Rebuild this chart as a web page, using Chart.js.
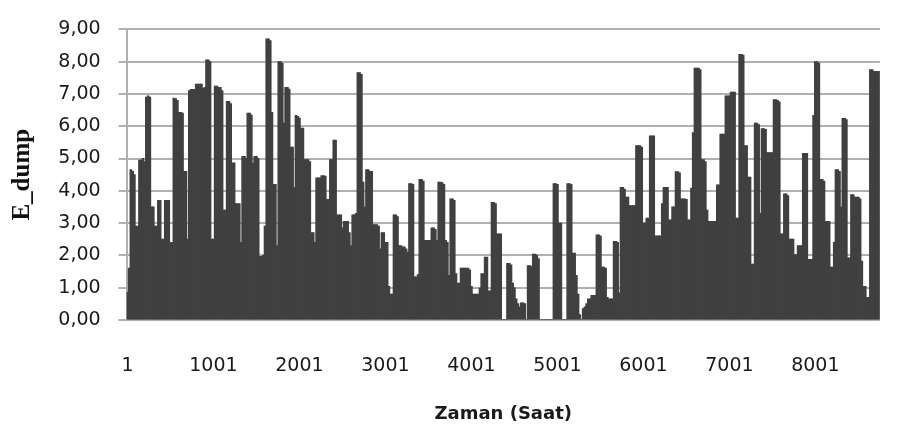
<!DOCTYPE html>
<html>
<head>
<meta charset="utf-8">
<script src="https://cdn.jsdelivr.net/npm/chart.js@4.4.1/dist/chart.umd.min.js"></script>
<style>
  html, body { margin: 0; padding: 0; background: #fff; overflow: hidden; width: 898px; height: 437px; }
  #wrap { width: 906px; height: 437px; }
</style>
</head>
<body>
<div id="wrap"><canvas id="c" width="906" height="437"></canvas></div>
<script>
// Hourly dump energy, aggregated into 20-hour blocks (438 blocks = 8760 h)
const START_HOUR = 1;
const STEP_HOURS = 20;

const eDump = [
  0.85,1.6,4.65,4.6,4.5,2.9,2.9,4.95,4.95,5.0,
  4.9,6.9,6.94,6.9,3.5,3.5,2.9,2.9,3.7,3.7,
  2.5,2.5,3.7,3.7,3.7,2.4,2.4,6.87,6.85,6.8,
  6.43,6.43,6.4,4.6,4.6,2.5,7.1,7.14,7.14,7.14,
  7.3,7.3,7.3,7.3,7.17,7.2,8.05,8.05,8.0,2.5,
  2.5,7.24,7.24,7.2,7.2,7.1,3.4,3.4,6.77,6.77,
  6.7,4.86,4.86,3.6,3.6,3.6,2.4,5.06,5.06,5.0,
  6.4,6.4,6.35,4.86,5.06,5.06,5.0,1.97,1.97,2.0,
  2.9,8.7,8.7,8.65,6.43,4.2,4.2,2.3,8.0,8.0,
  7.95,6.1,7.2,7.2,7.15,5.35,5.35,4.1,6.33,6.3,
  6.25,5.94,5.94,4.96,4.96,4.96,4.9,2.7,2.7,2.4,
  4.4,4.4,4.4,4.47,4.47,4.45,3.73,3.73,4.96,4.96,
  5.57,5.57,3.25,3.25,3.25,2.85,3.05,3.05,3.05,2.7,
  2.3,3.25,3.25,3.3,7.66,7.66,7.6,4.27,3.5,4.65,
  4.65,4.6,4.6,2.95,2.95,2.95,2.9,2.2,2.7,2.7,
  2.4,2.4,1.04,0.8,0.8,3.25,3.25,3.2,2.3,2.3,
  2.26,2.26,2.2,2.1,4.22,4.22,4.2,1.33,1.33,1.4,
  4.35,4.35,4.3,2.46,2.46,2.46,2.46,2.85,2.85,2.8,
  2.46,4.27,4.27,4.25,4.2,2.46,2.4,1.38,3.75,3.75,
  3.7,1.43,1.14,1.14,1.6,1.6,1.6,1.6,1.6,1.55,
  1.04,0.8,0.8,0.8,0.8,0.99,1.43,1.43,1.94,1.94,
  0.9,0.9,3.64,3.64,3.6,2.66,2.66,2.66,0,0,
  0,1.75,1.75,1.7,1.14,1.0,0.65,0.5,0.4,0.53,
  0.53,0.5,0,1.68,1.68,1.65,2.04,2.04,2.0,1.9,
  0,0,0,0,0,0,0,0,4.22,4.22,
  4.2,3.0,3.0,0,0,0,4.22,4.22,4.2,2.07,
  2.07,1.38,0.8,0.16,0,0.35,0.4,0.5,0.65,0.65,
  0.76,0.76,0.76,2.63,2.63,2.6,1.63,1.63,1.6,0.7,
  0.65,0.65,0.65,2.43,2.43,2.4,0.84,4.1,4.1,4.05,
  3.8,3.8,3.54,3.54,3.54,3.54,5.4,5.4,5.4,5.35,
  3.0,3.0,3.15,3.15,5.7,5.7,5.7,2.6,2.6,2.6,
  2.6,3.6,4.1,4.1,4.1,3.1,3.1,3.5,3.5,4.59,
  4.59,4.55,3.75,3.75,3.75,3.73,3.1,3.1,4.08,5.8,
  7.8,7.8,7.8,7.75,4.96,4.96,4.9,3.4,3.05,3.05,
  3.05,3.05,3.05,4.18,4.18,5.75,5.75,5.75,6.94,6.94,
  6.94,7.05,7.05,7.05,3.15,3.15,8.22,8.22,8.2,5.4,
  5.4,4.42,4.42,1.73,1.73,6.09,6.09,6.05,3.3,5.92,
  5.92,5.9,5.18,5.18,5.18,5.18,6.82,6.82,6.8,6.75,
  2.66,2.66,3.9,3.9,3.85,2.5,2.5,2.5,2.02,2.02,
  2.3,2.3,2.3,5.16,5.16,5.16,1.87,1.87,1.87,6.33,
  8.0,8.0,7.95,4.35,4.35,4.3,3.05,3.05,3.05,1.63,
  1.63,2.4,4.65,4.65,4.6,3.5,6.24,6.24,6.2,1.92,
  1.92,3.88,3.88,3.8,3.8,3.8,3.75,1.82,1.04,1.04,
  0.7,0.7,7.75,7.75,7.7,7.7,7.7,7.7
];

// Category labels: first hour of each block
const hours = eDump.map((_, i) => String(START_HOUR + STEP_HOURS * i));

// Hours that carry a visible tick label
const TICK_LABELS = ['1', '1001', '2001', '3001', '4001', '5001', '6001', '7001', '8001'];

const GRID = '#b0b0b0';
const TEXT = '#1a1a1a';

new Chart(document.getElementById('c'), {
  type: 'bar',
  data: {
    labels: hours,
    datasets: [{
      data: eDump,
      backgroundColor: '#404040',
      borderWidth: 0,
      barPercentage: 1,
      categoryPercentage: 1,
      inflateAmount: 0.5   // slight overlap so neighbouring columns join without seams
    }]
  },
  options: {
    responsive: false,
    animation: false,
    devicePixelRatio: 1,
    layout: { padding: { top: 14, right: 3, bottom: 0, left: 0 } },
    plugins: {
      legend: { display: false },
      tooltip: { enabled: false }
    },
    scales: {
      x: {
        grid: { display: false },
        border: { display: false },
        ticks: {
          autoSkip: false,
          maxRotation: 0,
          minRotation: 0,
          padding: 27,
          color: TEXT,
          font: { family: 'DejaVu Sans', size: 19 },
          callback(value) {
            const l = this.getLabelForValue(value);
            return TICK_LABELS.includes(l) ? l : '';
          }
        },
        title: {
          display: true,
          text: 'Zaman (Saat)',
          color: TEXT,
          font: { family: 'DejaVu Sans', size: 18, weight: 'bold' },
          padding: { top: 0, bottom: 12 }
        },
        afterFit(scale) { scale.height = 117; }
      },
      y: {
        min: 0,
        max: 9,
        ticks: {
          stepSize: 1,
          padding: 18,
          color: TEXT,
          font: { family: 'DejaVu Sans', size: 19 },
          callback: v => Number(v).toFixed(2).replace('.', ',')
        },
        grid: { color: GRID, lineWidth: 2, drawTicks: true, tickLength: 8 },
        border: { display: true, color: GRID, width: 2 },
        title: {
          display: true,
          text: 'E_dump',
          color: '#111',
          font: { family: 'Liberation Serif', size: 25, weight: 'bold' },
          padding: { top: 8, bottom: 0 }
        },
        afterFit(scale) { scale.width = 126.6; }
      }
    }
  }
});
</script>
</body>
</html>
